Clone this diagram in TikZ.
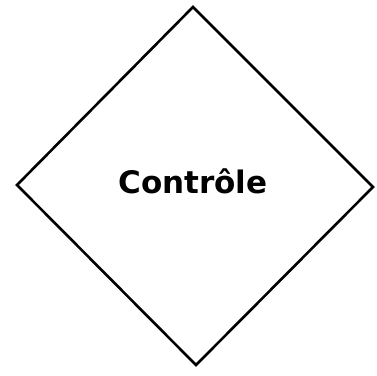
\documentclass[tikz,border=0pt]{standalone}
\usepackage{fontspec}
\setmainfont{DejaVu Sans}
\begin{document}
\begin{tikzpicture}[x=1pt,y=-1pt,
  edge/.style={draw=black,line width=2.6pt,line join=miter},
  lbl/.style={font=\bfseries\fontsize{31}{35}\selectfont}]
\useasboundingbox (0,0) rectangle (377,375);
\coordinate (t) at (193,7);
\coordinate (r) at (373,187);
\coordinate (b) at (196,365);
\coordinate (l) at (17,185);
\draw[edge] (t) -- (r) -- (b) -- (l) -- cycle;
\node[lbl,inner sep=0pt] (c) at (193,181) {Contrôle};
\end{tikzpicture}
\end{document}
